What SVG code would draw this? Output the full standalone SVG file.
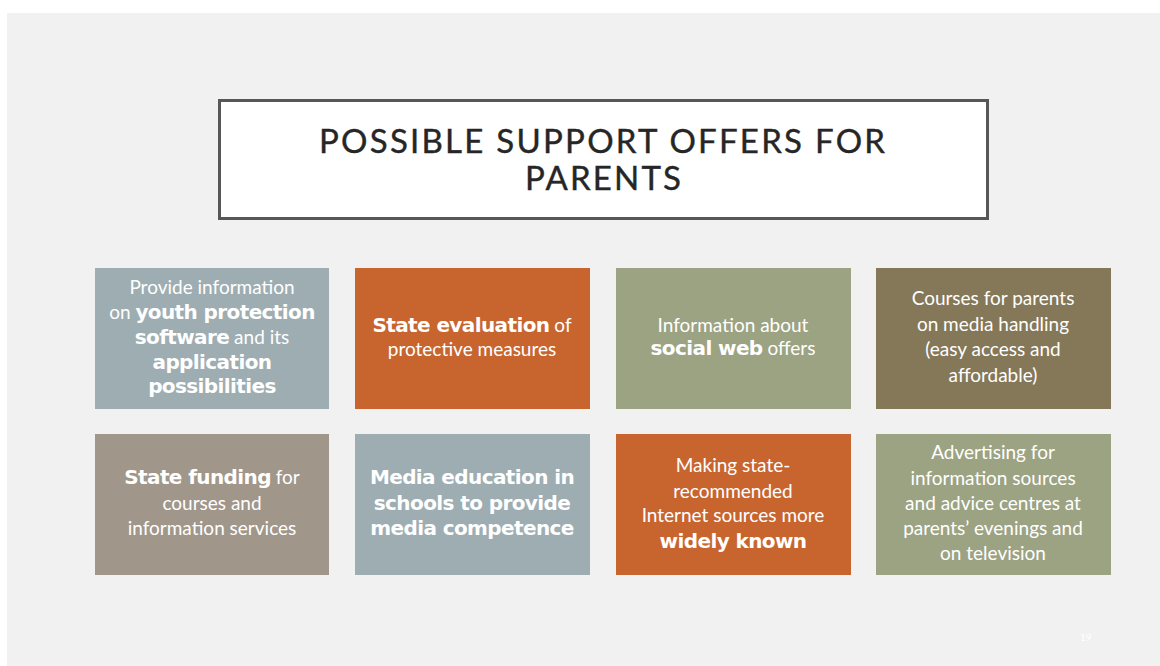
<svg xmlns="http://www.w3.org/2000/svg" width="1160" height="666" viewBox="0 0 1160 666">
  <style>
    .slide { fill: #f1f1f1; }
    .title-box { fill: #ffffff; stroke: #575757; stroke-width: 3; }
    .title { font-family: Lato, "Open Sans", sans-serif; font-size: 33px; fill: #262626; stroke: #262626; stroke-width: 0.4; text-anchor: middle; }
    .tile-text { font-family: Lato, "Open Sans", sans-serif; font-size: 19px; fill: #ffffff; text-anchor: middle; }
    .b { font-family: "DejaVu Sans", Verdana, sans-serif; font-weight: bold; font-size: 20px; letter-spacing: -0.6px; }
    .blue { fill: #9dadb2; }
    .orange { fill: #c8652f; }
    .sage { fill: #9ca382; }
    .brown { fill: #857858; }
    .taupe { fill: #a0968a; }
    .pageno { font-family: Lato, sans-serif; font-size: 10px; fill: #ffffff; }
  </style>

  <!-- page and slide area -->
  <rect x="0" y="0" width="1160" height="666" fill="#ffffff"/>
  <rect class="slide" x="7" y="13" width="1153" height="653"/>

  <!-- heading -->
  <g id="title">
    <rect class="title-box" x="219.5" y="100.5" width="768" height="118"/>
    <text class="title" x="602" y="153" textLength="566" lengthAdjust="spacing">POSSIBLE SUPPORT OFFERS FOR</text>
    <text class="title" x="603" y="190" textLength="156" lengthAdjust="spacing">PARENTS</text>
  </g>

  <!-- row 1 -->
  <g id="tile-youth-protection">
    <rect class="blue" x="95" y="268" width="234" height="141"/>
    <text class="tile-text" x="212" y="294">Provide information</text>
    <text class="tile-text" x="212" y="319">on <tspan class="b">youth protection</tspan></text>
    <text class="tile-text" x="212" y="344"><tspan class="b">software</tspan> and its</text>
    <text class="tile-text" x="212" y="369"><tspan class="b">application</tspan></text>
    <text class="tile-text" x="212" y="393"><tspan class="b">possibilities</tspan></text>
  </g>

  <g id="tile-state-evaluation">
    <rect class="orange" x="355" y="268" width="235" height="141"/>
    <text class="tile-text" x="472" y="332"><tspan class="b">State evaluation</tspan> of</text>
    <text class="tile-text" x="472" y="356">protective measures</text>
  </g>

  <g id="tile-social-web">
    <rect class="sage" x="616" y="268" width="235" height="141"/>
    <text class="tile-text" x="733" y="332">Information about</text>
    <text class="tile-text" x="733" y="355"><tspan class="b">social web</tspan> offers</text>
  </g>

  <g id="tile-courses">
    <rect class="brown" x="876" y="268" width="235" height="141"/>
    <text class="tile-text" x="993" y="305">Courses for parents</text>
    <text class="tile-text" x="993" y="331">on media handling</text>
    <text class="tile-text" x="993" y="356">(easy access and</text>
    <text class="tile-text" x="993" y="382">affordable)</text>
  </g>

  <!-- row 2 -->
  <g id="tile-state-funding">
    <rect class="taupe" x="95" y="434" width="234" height="141"/>
    <text class="tile-text" x="212" y="484"><tspan class="b">State funding</tspan> for</text>
    <text class="tile-text" x="212" y="510">courses and</text>
    <text class="tile-text" x="212" y="535">information services</text>
  </g>

  <g id="tile-media-education">
    <rect class="blue" x="355" y="434" width="235" height="141"/>
    <text class="tile-text" x="472" y="484"><tspan class="b">Media education in</tspan></text>
    <text class="tile-text" x="472" y="510"><tspan class="b">schools to provide</tspan></text>
    <text class="tile-text" x="472" y="535"><tspan class="b">media competence</tspan></text>
  </g>

  <g id="tile-internet-sources">
    <rect class="orange" x="616" y="434" width="235" height="141"/>
    <text class="tile-text" x="733" y="472">Making state-</text>
    <text class="tile-text" x="733" y="498">recommended</text>
    <text class="tile-text" x="733" y="522">Internet sources more</text>
    <text class="tile-text" x="733" y="548"><tspan class="b">widely known</tspan></text>
  </g>

  <g id="tile-advertising">
    <rect class="sage" x="876" y="434" width="235" height="141"/>
    <text class="tile-text" x="993" y="459">Advertising for</text>
    <text class="tile-text" x="993" y="485">information sources</text>
    <text class="tile-text" x="993" y="510">and advice centres at</text>
    <text class="tile-text" x="993" y="535">parents’ evenings and</text>
    <text class="tile-text" x="993" y="560">on television</text>
  </g>

  <!-- no connectors in this layout -->
  <g id="connectors"/>

  <text class="pageno" x="1080" y="641">19</text>
</svg>
